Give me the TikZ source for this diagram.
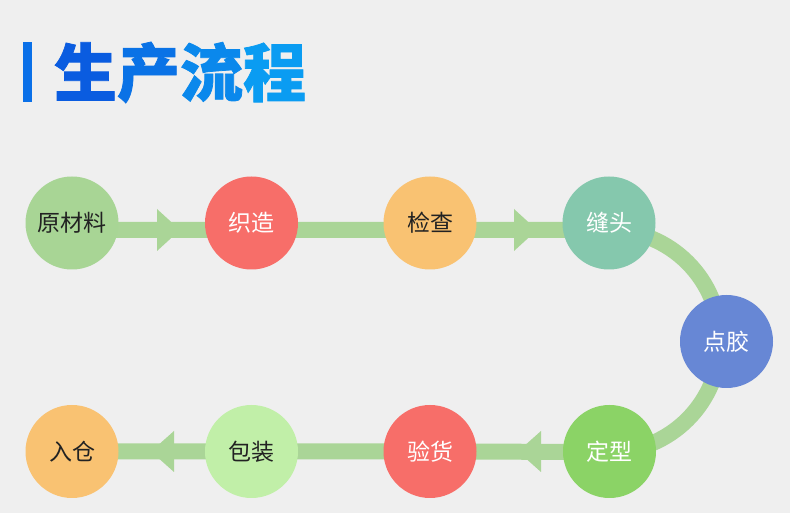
\documentclass[tikz,border=0pt]{standalone}
\usepackage{fontspec}
\newfontfamily\cjk{Noto Sans CJK SC}
\newfontfamily\cjkt[BoldFeatures={FakeBold=1.2}]{Noto Sans CJK SC}
\usetikzlibrary{backgrounds}
\definecolor{bg}{HTML}{EFEFEF}
\definecolor{lg}{HTML}{AAD597}
\definecolor{cA}{HTML}{A8D595}
\definecolor{cB}{HTML}{F76E69}
\definecolor{cC}{HTML}{F9C272}
\definecolor{cD}{HTML}{85C8AD}
\definecolor{cE}{HTML}{6787D5}
\definecolor{cF}{HTML}{8BD366}
\definecolor{cG}{HTML}{C1EFA8}
\definecolor{dk}{HTML}{222222}
\definecolor{t1}{HTML}{0A5CE0}
\definecolor{t2}{HTML}{0A72E6}
\definecolor{t3}{HTML}{0A88EC}
\definecolor{t4}{HTML}{0A9CF2}
\definecolor{barc}{HTML}{0A70E8}
\begin{document}
\begin{tikzpicture}[x=1pt,y=1pt,
  stepnode/.style={circle, minimum size=93pt, inner sep=0pt, font=\cjk\fontsize{23}{23}\selectfont},
  conn/.style={line width=16pt, draw=lg},
  tipshape/.style={fill=lg}]
\useasboundingbox (0,0) rectangle (790,513);
\begin{pgfonlayer}{background}
\fill[bg] (0,0) rectangle (790,513);
\end{pgfonlayer}
% title
\node[fill=barc, minimum width=9pt, minimum height=60pt, inner sep=0pt] (bar) at (27.5,441) {};
\node[inner sep=0pt, font=\cjkt\bfseries\fontsize{63}{63}\selectfont] (title) at (180,440.5)
  {\textcolor{t1}{生}\textcolor{t2}{产}\textcolor{t3}{流}\textcolor{t4}{程}};
% steps
\node[stepnode, fill=cA, text=dk]   (n1) at (72,290)    {原材料};
\node[stepnode, fill=cB, text=white] (n2) at (251.5,290) {织造};
\node[stepnode, fill=cC, text=dk]   (n3) at (430,290)   {检查};
\node[stepnode, fill=cD, text=white] (n4) at (609,290)   {缝头};
\node[stepnode, fill=cE, text=white] (n5) at (726.5,171.5) {点胶};
\node[stepnode, fill=cF, text=white] (n6) at (609.5,61.5) {定型};
\node[stepnode, fill=cB, text=white] (n7) at (430,61.5)  {验货};
\node[stepnode, fill=cG, text=dk]   (n8) at (251.5,61.5) {包装};
\node[stepnode, fill=cC, text=dk]   (n9) at (72,61.5)   {入仓};
% connectors
\begin{pgfonlayer}{background}
\draw[conn] ([yshift=-7pt]n1.center) -- ([yshift=-7pt]n2.center) -- ([yshift=-7pt]n3.center) -- ([yshift=-7pt]n4.center)
  arc[start angle=90, end angle=-90, radius=111] -- (n7.center) -- (n8.center) -- (n9.center);
\fill[tipshape] (157,262) -- (180,283) -- (157,304) -- cycle;
\fill[tipshape] (514,262) -- (537,283) -- (514,304) -- cycle;
\fill[tipshape] (541,41) -- (518,61.5) -- (541,82) -- cycle;
\fill[tipshape] (174,41) -- (151,61.5) -- (174,82) -- cycle;
\end{pgfonlayer}
\end{tikzpicture}
\end{document}
